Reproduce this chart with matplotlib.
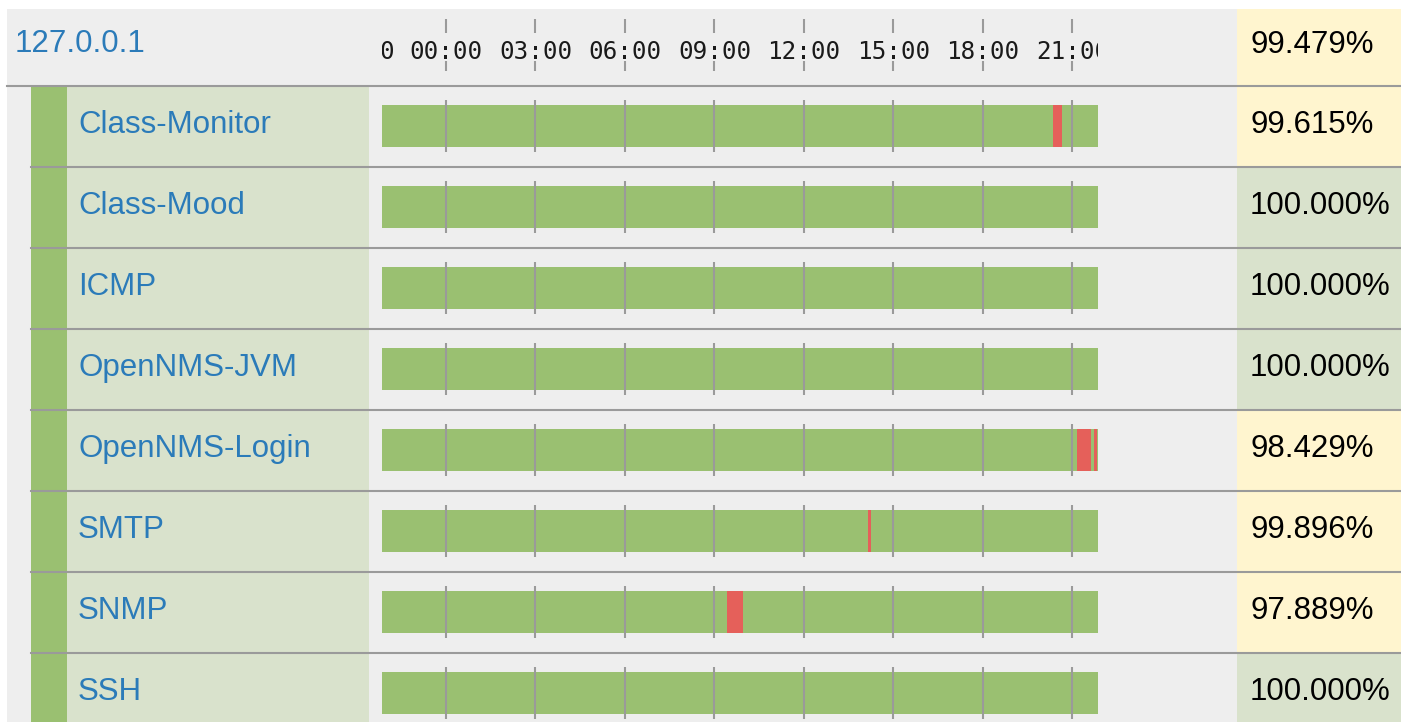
import matplotlib
matplotlib.use('Agg')
import matplotlib.pyplot as plt
from matplotlib.patches import Rectangle

# node summary
node_name = '127.0.0.1'
node_avail = 99.479

# services and their availability over the last 24h
services = ['Class-Monitor', 'Class-Mood', 'ICMP', 'OpenNMS-JVM',
            'OpenNMS-Login', 'SMTP', 'SNMP', 'SSH']
avail = [99.615, 100.0, 100.0, 100.0, 98.429, 99.896, 97.889, 100.0]

# outages as (start, end) in clock hours of the day
outages = [
    [(20.35, 20.65)],
    [],
    [],
    [],
    [(21.15, 21.62), (21.72, 21.82)],
    [(14.15, 14.25)],
    [(9.42, 9.955)],
    [],
]

# timeline window: 24 hours ending at ~21:51
win_start = -2.145
win_len = 24
tick_hours = [0, 3, 6, 9, 12, 15, 18, 21]
tick_labels = ['00:00', '03:00', '06:00', '09:00', '12:00', '15:00', '18:00', '21:00']

GRAY = '#eeeeee'
GREEN = '#9ac071'
LIGHT = '#d9e2cc'
YELLOW = '#fff5cf'
RED = '#e5605a'
LINE = '#9a9a9a'
BLUE = '#2b7bb9'

W, H = 1401, 722
fig = plt.figure(figsize=(W / 100, H / 100), dpi=100)
base = fig.add_axes([0, 0, 1, 1])
base.set_xlim(0, W)
base.set_ylim(H, 0)
base.axis('off')


def px_axes(x0, y0, x1, y1):
    a = fig.add_axes([x0 / W, 1 - y1 / H, (x1 - x0) / W, (y1 - y0) / H])
    a.set_xlim(win_start, win_start + win_len)
    a.set_ylim(y1 - y0, 0)
    a.axis('off')
    return a


def cell_color(v):
    return YELLOW if v < 100 else LIGHT


# background + header
base.add_patch(Rectangle((7, 9), W - 7, H - 9, fc=GRAY, lw=0))
base.add_patch(Rectangle((1237, 9), W - 1237, 77, fc=cell_color(node_avail), lw=0))
base.plot([7, W], [85.5, 85.5], color=LINE, lw=1.5)
base.text(15, 52, node_name, color=BLUE, fontsize=22.5, family='Liberation Sans', va='baseline')
base.text(1250, 53, '%.3f%%' % node_avail, color='black', fontsize=22.5,
          family='Liberation Sans', va='baseline')

hdr = px_axes(382, 19, 1098, 71)
hdr.vlines(tick_hours, 0, 14, color=LINE, lw=1.5)
hdr.vlines(tick_hours, 42, 52, color=LINE, lw=1.5)
for h, lab in zip(tick_hours, tick_labels):
    hdr.text(h, 40, lab, ha='center', va='baseline', family='DejaVu Sans Mono',
             fontsize=17.5, color='#1a1a1a', clip_on=True)
hdr.text(win_start - 0.1, 40, '0', ha='left', va='baseline', family='DejaVu Sans Mono',
         fontsize=17.5, color='#1a1a1a', clip_on=True)

# service rows
for i, name in enumerate(services):
    top = 86 + 81 * i
    base.add_patch(Rectangle((31, top), 36, 80, fc=GREEN, lw=0))
    base.add_patch(Rectangle((67, top), 302, 80, fc=LIGHT, lw=0))
    base.add_patch(Rectangle((1237, top), W - 1237, 80, fc=cell_color(avail[i]), lw=0))
    base.plot([31, W], [top + 80.5, top + 80.5], color=LINE, lw=1.5)
    base.text(78, top + 47, name, color=BLUE, fontsize=22.5, family='Liberation Sans',
              va='baseline')
    base.text(1250, top + 47, '%.3f%%' % avail[i], color='black', fontsize=22.5,
              family='Liberation Sans', va='baseline')

    ax = px_axes(382, top + 14, 1098, top + 66)
    ax.broken_barh([(win_start, win_len)], (5, 42), facecolor=GREEN, lw=0)
    if outages[i]:
        ax.broken_barh([(s, e - s) for s, e in outages[i]], (5, 42), facecolor=RED, lw=0)
    ax.vlines(tick_hours, 0, 52, color=LINE, lw=1.5)

fig.savefig('out.png', dpi=100)
